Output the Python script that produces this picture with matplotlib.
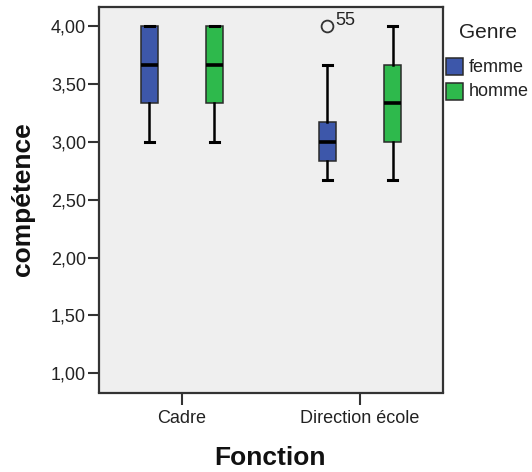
import matplotlib
matplotlib.use("Agg")
import matplotlib.pyplot as plt
from matplotlib.patches import Rectangle

plt.rcParams['font.family'] = ['Liberation Sans', 'DejaVu Sans']

categories = ["Cadre", "Direction école"]
genres = ["femme", "homme"]
colors = {"femme": "#3d57aa", "homme": "#2eb94c"}

# stats per (category, genre): whislo, q1, med, q3, whishi
whislo = {"Cadre": [3.0, 3.0], "Direction école": [2.667, 2.667]}
q1 = {"Cadre": [3.333, 3.333], "Direction école": [2.833, 3.0]}
med = {"Cadre": [3.667, 3.667], "Direction école": [3.0, 3.333]}
q3 = {"Cadre": [4.0, 4.0], "Direction école": [3.167, 3.667]}
whishi = {"Cadre": [4.0, 4.0], "Direction école": [3.667, 4.0]}
outliers = {"Cadre": [[], []], "Direction école": [[4.0], []]}
outlier_labels = {"Cadre": [[], []], "Direction école": [["55"], []]}
yticks = [1.0, 1.5, 2.0, 2.5, 3.0, 3.5, 4.0]
ytick_labels = ["1,00", "1,50", "2,00", "2,50", "3,00", "3,50", "4,00"]

W, H = 532, 472
fig = plt.figure(figsize=(W / 100, H / 100), dpi=100)
ax = fig.add_axes([98.5 / W, 1 - 392.5 / H, (443 - 98.5) / W, (392.5 - 7) / H])
ax.set_facecolor("#efefef")

offset = 0.183
width = 0.095
for ci, cat in enumerate(categories):
    for gi, g in enumerate(genres):
        pos = ci + (gi - 0.5) * 2 * offset
        st = [dict(whislo=whislo[cat][gi], q1=q1[cat][gi], med=med[cat][gi],
                   q3=q3[cat][gi], whishi=whishi[cat][gi], fliers=outliers[cat][gi])]
        ax.bxp(st, positions=[pos], widths=width, patch_artist=True, showfliers=True,
               boxprops=dict(facecolor=colors[g], edgecolor="#2a2a2a", linewidth=1.1),
               medianprops=dict(color="black", linewidth=2.6, solid_capstyle="butt"),
               whiskerprops=dict(color="black", linewidth=1.8),
               capprops=dict(color="black", linewidth=2.2),
               capwidths=0.05,
               flierprops=dict(marker="o", markerfacecolor="none", markeredgecolor="#333333",
                               markersize=8.5, markeredgewidth=1.3))
        for val, lab in zip(outliers[cat][gi], outlier_labels[cat][gi]):
            ax.annotate(lab, (pos, val), xytext=(6, -2), textcoords="offset points",
                        fontsize=13, color="#222222", va="bottom", ha="left")

ax.set_xlim(-0.468, 1.466)
ax.set_ylim(0.834, 4.164)
ax.set_xticks(range(len(categories)))
ax.set_xticklabels(categories, fontsize=13, color="#222222")
ax.set_yticks(yticks)
ax.set_yticklabels(ytick_labels, fontsize=13, color="#222222")
ax.tick_params(axis="y", direction="out", length=8, width=1.5, color="#333333", pad=1)
ax.tick_params(axis="x", direction="out", length=8.5, width=1.5, color="#333333", pad=4)
for sp in ax.spines.values():
    sp.set_color("#333333")
    sp.set_linewidth(1.6)

fig.text(23 / W, 1 - 199 / H, "compétence", rotation=90, fontsize=19, fontweight="bold",
         ha="center", va="center", color="#111111")
fig.text(270 / W, 1 - 458 / H, "Fonction", fontsize=19, fontweight="bold",
         ha="center", va="center", color="#111111")

# legend
fig.text(459 / W, 1 - 33 / H, "Genre", fontsize=15, ha="left", va="center", color="#222222")
for i, g in enumerate(genres):
    top = 58 + i * 25
    fig.add_artist(Rectangle((446 / W, 1 - (top + 17) / H), 17 / W, 17 / H,
                             transform=fig.transFigure, facecolor=colors[g],
                             edgecolor="#2a2a2a", linewidth=1.1))
    fig.text(469 / W, 1 - (top + 9) / H, g, fontsize=13, ha="left", va="center",
             color="#222222")

fig.savefig("out.png", dpi=100)
